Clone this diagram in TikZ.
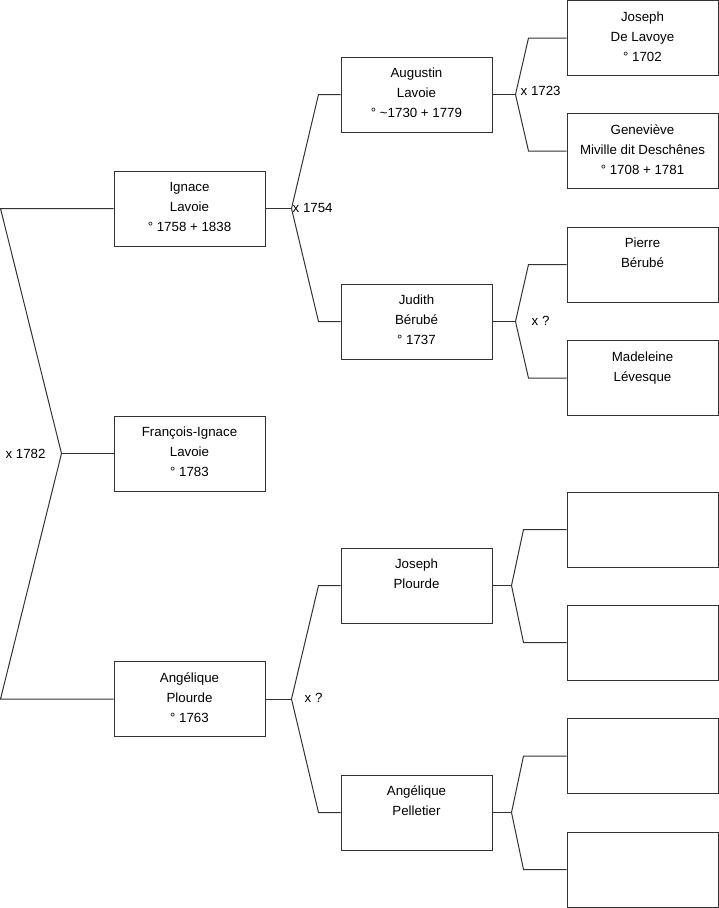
\documentclass[tikz,border=0pt]{standalone}
\usepackage{fontspec}
\setmainfont{Liberation Sans}
\usetikzlibrary{calc}

\begin{document}
\begin{tikzpicture}[
    x=1pt, y=-1pt,
    every node/.style={font=\fontsize{13.3}{20}\selectfont},
    person/.style={draw=black!80, line width=1pt, inner sep=0pt,
      execute at begin node={\begin{minipage}[c][75pt][t]{151pt}\centering\rule{0pt}{20.5pt}},
      execute at end node={\end{minipage}}},
    link/.style={draw=black!80, line width=1pt},
    union/.style={inner sep=1pt}
  ]
  \useasboundingbox (0,0) rectangle (719,908);

  % generation 1 and 2
  \node[person] (ignace) at (189.5,208.5) {Ignace\\Lavoie\\° 1758 + 1838};
  \node[person] (francois) at (189.5,453.5) {François-Ignace\\Lavoie\\° 1783};
  \node[person] (angelique) at (189.5,699) {Angélique\\Plourde\\° 1763};

  % generation 3
  \node[person] (augustin) at (416.5,94.5) {Augustin\\Lavoie\\° \textasciitilde1730 + 1779};
  \node[person] (judith) at (416.5,321.5) {Judith\\Bérubé\\° 1737};
  \node[person] (josephp) at (416.5,585.5) {Joseph\\Plourde};
  \node[person] (pelletier) at (416.5,812.5) {Angélique\\Pelletier};

  % generation 4
  \node[person] (joseph) at (642.5,38) {Joseph\\De Lavoye\\° 1702};
  \node[person] (genevieve) at (642.5,151) {Geneviève\\Miville dit Deschênes\\° 1708 + 1781};
  \node[person] (pierre) at (642.5,264.5) {Pierre\\Bérubé};
  \node[person] (madeleine) at (642.5,378) {Madeleine\\Lévesque};
  \node[person] (empty1) at (642.5,529.5) {};
  \node[person] (empty2) at (642.5,642.5) {};
  \node[person] (empty3) at (642.5,756) {};
  \node[person] (empty4) at (642.5,869.5) {};

  % forks
  \coordinate (f0) at ([xshift=-52]francois.west);
  \coordinate (f1) at ([xshift=26]ignace.east);
  \coordinate (f2) at ([xshift=26]angelique.east);
  \coordinate (f3) at ([xshift=23]augustin.east);
  \coordinate (f4) at ([xshift=23]judith.east);
  \coordinate (f5) at ([xshift=19]josephp.east);
  \coordinate (f6) at ([xshift=19]pelletier.east);

  \draw[link] (ignace.west) -- ++(-113,0) -- (f0) -- ([xshift=-113]angelique.west) -- (angelique.west);
  \draw[link] (f0) -- (francois.west);

  \draw[link] (ignace.east) -- (f1);
  \draw[link] (augustin.west) -- ++(-22,0) -- (f1) -- ([xshift=-22]judith.west) -- (judith.west);
  \draw[link] (angelique.east) -- (f2);
  \draw[link] (josephp.west) -- ++(-22,0) -- (f2) -- ([xshift=-22]pelletier.west) -- (pelletier.west);

  \draw[link] (augustin.east) -- (f3);
  \draw[link] (joseph.west) -- ++(-38,0) -- (f3) -- ([xshift=-38]genevieve.west) -- (genevieve.west);
  \draw[link] (judith.east) -- (f4);
  \draw[link] (pierre.west) -- ++(-38,0) -- (f4) -- ([xshift=-38]madeleine.west) -- (madeleine.west);

  \draw[link] (josephp.east) -- (f5);
  \draw[link] (empty1.west) -- ++(-43,0) -- (f5) -- ([xshift=-43]empty2.west) -- (empty2.west);
  \draw[link] (pelletier.east) -- (f6);
  \draw[link] (empty3.west) -- ++(-43,0) -- (f6) -- ([xshift=-43]empty4.west) -- (empty4.west);

  % marriages
  \node[union] (m0) at ([xshift=-36]f0) {x 1782};
  \node[union, anchor=west] (m1) at ([yshift=1]f1) {x 1754};
  \node[union, anchor=west] (m2) at ([xshift=12,yshift=1]f2) {x ?};
  \node[union, anchor=west] (m3) at ([xshift=4,yshift=4]f3) {x 1723};
  \node[union, anchor=west] (m4) at ([xshift=15,yshift=1]f4) {x ?};
\end{tikzpicture}
\end{document}
